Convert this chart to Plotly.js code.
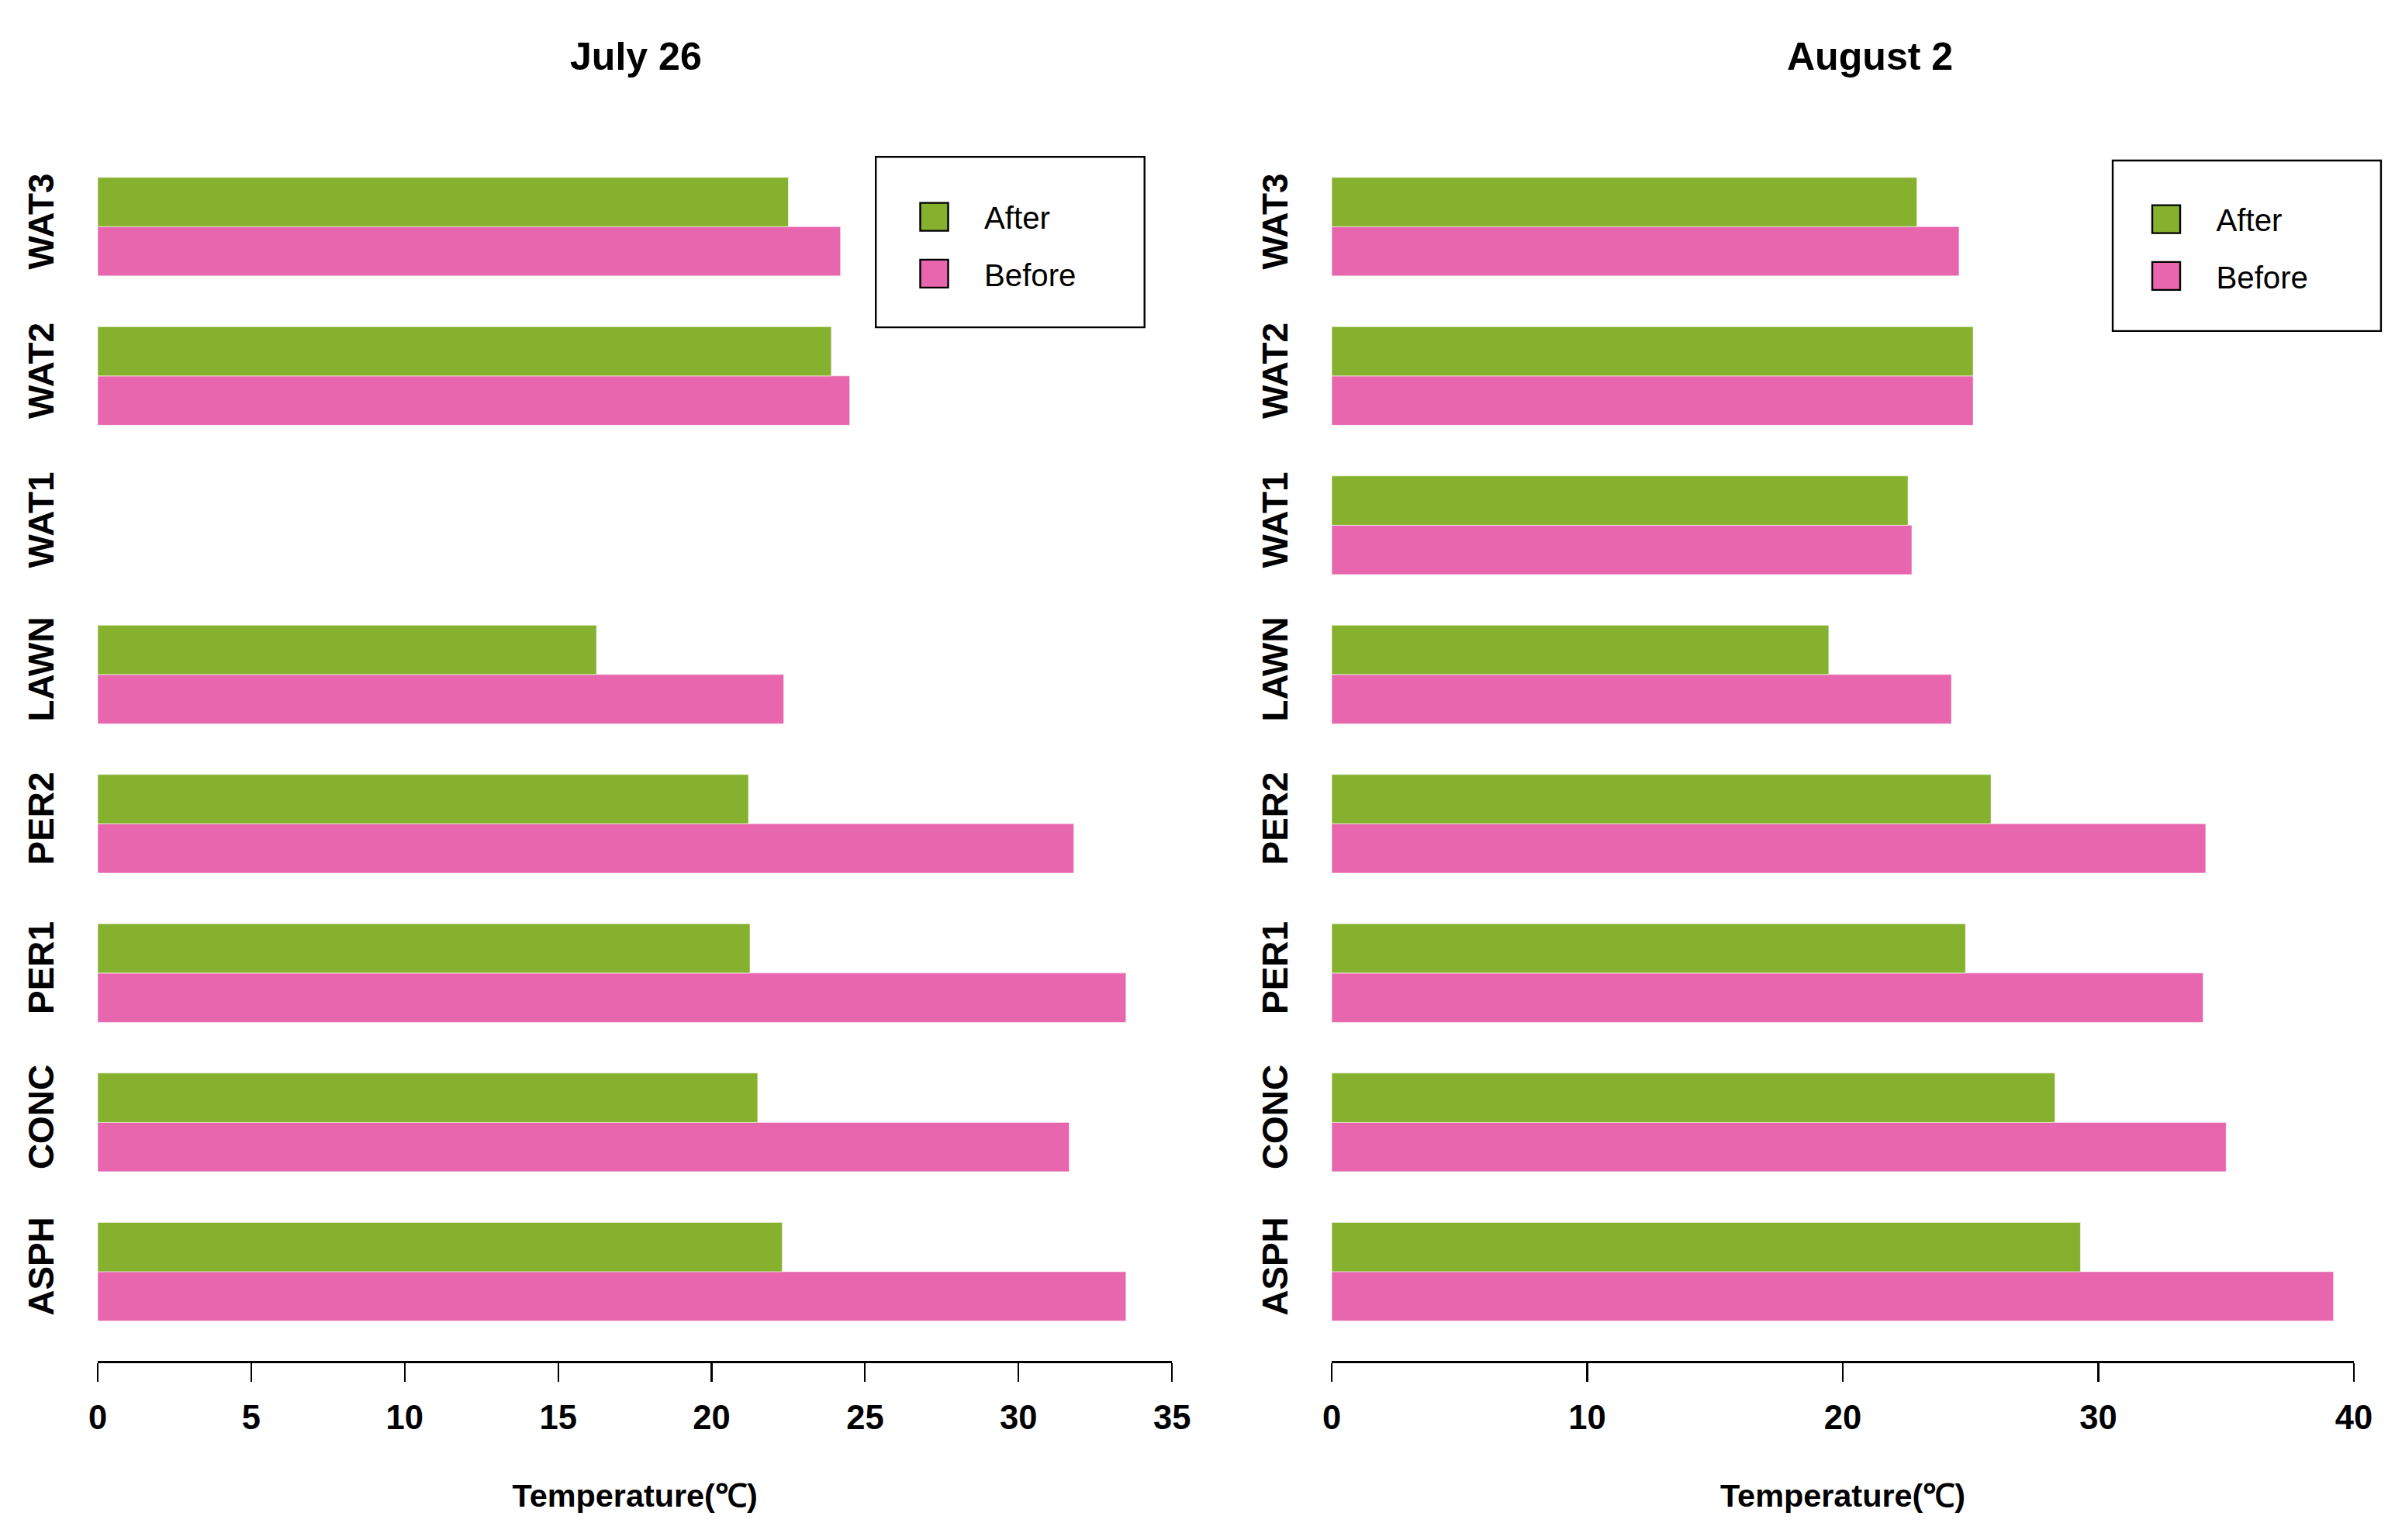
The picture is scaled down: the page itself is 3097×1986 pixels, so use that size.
<!DOCTYPE html>
<html>
<head>
<meta charset="utf-8">
<script src="https://cdn.plot.ly/plotly-3.0.1.min.js"></script>
<style>
  html { margin:0; padding:0; background:#ffffff; overflow:hidden; }
  body { margin:0; padding:0; background:#ffffff; width:3097px; height:1986px; overflow:visible; }
  #chart { width:1032px; height:662px; transform:scale(3); transform-origin:0 0; }
</style>
</head>
<body>
<div id="chart"></div>
<script>
// ---- data ----
var categories = ['ASPH', 'CONC', 'PER1', 'PER2', 'LAWN', 'WAT1', 'WAT2', 'WAT3'];
var julyAfter  = [22.3, 21.5, 21.25, 21.2, 16.25, null, 23.9, 22.5];
var julyBefore = [33.5, 31.65, 33.5, 31.8, 22.35, null, 24.5, 24.2];
var augAfter   = [29.3, 28.3, 24.8, 25.8, 19.45, 22.55, 25.1, 22.9];
var augBefore  = [39.2, 35.0, 34.1, 34.2, 24.25, 22.7, 25.1, 24.55];
var seriesNames = ['After', 'Before'];
var panelTitles = ['July 26', 'August 2'];
var axisTitle = 'Temperature(℃)';

// ---- styles ----
var GREEN = '#86B12E';
var PINK = '#E766AD';
var FONT = 'Liberation Sans, Arial, sans-serif';
var BW = 0.33;

function barTrace(vals, name, color, xa, ya, offset) {
  return {
    type: 'bar', orientation: 'h', x: vals, y: categories, name: name,
    xaxis: xa, yaxis: ya, width: BW, offset: offset, showlegend: false,
    marker: { color: color, line: { color: 'rgba(255,255,255,0.6)', width: 0.3 } },
    hoverinfo: 'skip'
  };
}
function legendTrace(name, color, xa, ya, legend, group) {
  return {
    type: 'bar', orientation: 'h', x: [null], y: [categories[0]], name: name,
    xaxis: xa, yaxis: ya, legend: legend, legendgroup: group, showlegend: true,
    marker: { color: color, line: { color: '#000000', width: 0.8 } },
    hoverinfo: 'skip'
  };
}

var data = [
  barTrace(julyBefore, seriesNames[1], PINK, 'x', 'y', -BW),
  barTrace(julyAfter, seriesNames[0], GREEN, 'x', 'y', 0),
  barTrace(augBefore, seriesNames[1], PINK, 'x2', 'y2', -BW),
  barTrace(augAfter, seriesNames[0], GREEN, 'x2', 'y2', 0),
  legendTrace(seriesNames[0], GREEN, 'x', 'y', 'legend', 'a'),
  legendTrace(seriesNames[1], PINK, 'x', 'y', 'legend', 'b'),
  legendTrace(seriesNames[0], GREEN, 'x2', 'y2', 'legend2', 'c'),
  legendTrace(seriesNames[1], PINK, 'x2', 'y2', 'legend2', 'd')
];

function xAxis(domain, range, dtick, anchor) {
  return {
    domain: domain, range: range, dtick: dtick, tick0: 0, anchor: anchor,
    showgrid: false, zeroline: false, showline: true, linecolor: '#000', linewidth: 0.9,
    ticks: 'outside', ticklen: 8, tickwidth: 0.7, tickcolor: '#000',
    ticklabelstandoff: 3,
    tickfont: { family: FONT, size: 14.5, color: '#000', weight: 'bold' },
    title: { text: axisTitle, standoff: 21, font: { family: FONT, size: 13.8, color: '#000', weight: 'bold' } },
    fixedrange: true
  };
}
function yAxis(anchor) {
  return {
    domain: [0.1163, 0.9003], range: [-0.598, 7.49], type: 'category', anchor: anchor,
    categoryorder: 'array', categoryarray: categories,
    showgrid: false, zeroline: false, showline: false, ticks: '',
    tickangle: -90, ticklabelstandoff: 15,
    tickfont: { family: FONT, size: 15.3, color: '#000', weight: 'bold' },
    fixedrange: true
  };
}
function legendBox(x, y) {
  return {
    x: x, y: y, xanchor: 'left', yanchor: 'top', orientation: 'v',
    bgcolor: 'rgba(0,0,0,0)', borderwidth: 0, tracegroupgap: 4, itemwidth: 33,
    font: { family: FONT, size: 13.4, color: '#000' }, traceorder: 'grouped'
  };
}

var layout = {
  width: 1032, height: 662,
  margin: { l: 0, r: 0, t: 0, b: 0 },
  paper_bgcolor: '#ffffff', plot_bgcolor: '#ffffff',
  barmode: 'overlay',
  xaxis: xAxis([0.0407, 0.4881], [0, 35], 5, 'y'),
  yaxis: yAxis('x'),
  xaxis2: xAxis([0.5546, 0.9803], [0, 40], 10, 'y2'),
  yaxis2: yAxis('x2'),
  legend: legendBox(380 / 1032, 1 - 78 / 662),
  legend2: legendBox(909.5 / 1032, 1 - 79 / 662),
  shapes: [
    { type: 'rect', xref: 'paper', yref: 'paper', x0: 376.4 / 1032, x1: 491.9 / 1032,
      y0: 1 - 140.7 / 662, y1: 1 - 67.4 / 662, line: { color: '#000', width: 0.8 } },
    { type: 'rect', xref: 'paper', yref: 'paper', x0: 908 / 1032, x1: 1023.3 / 1032,
      y0: 1 - 142.3 / 662, y1: 1 - 69 / 662, line: { color: '#000', width: 0.8 } }
  ],
  annotations: [
    { text: panelTitles[0], xref: 'paper', yref: 'paper', x: 273 / 1032, y: 1 - 24 / 662,
      xanchor: 'center', yanchor: 'middle', showarrow: false,
      font: { family: FONT, size: 16.7, color: '#000', weight: 'bold' } },
    { text: panelTitles[1], xref: 'paper', yref: 'paper', x: 803.7 / 1032, y: 1 - 24.5 / 662,
      xanchor: 'center', yanchor: 'middle', showarrow: false,
      font: { family: FONT, size: 16.7, color: '#000', weight: 'bold' } }
  ]
};

Plotly.newPlot('chart', data, layout, { staticPlot: true, displayModeBar: false });
</script>
</body>
</html>
